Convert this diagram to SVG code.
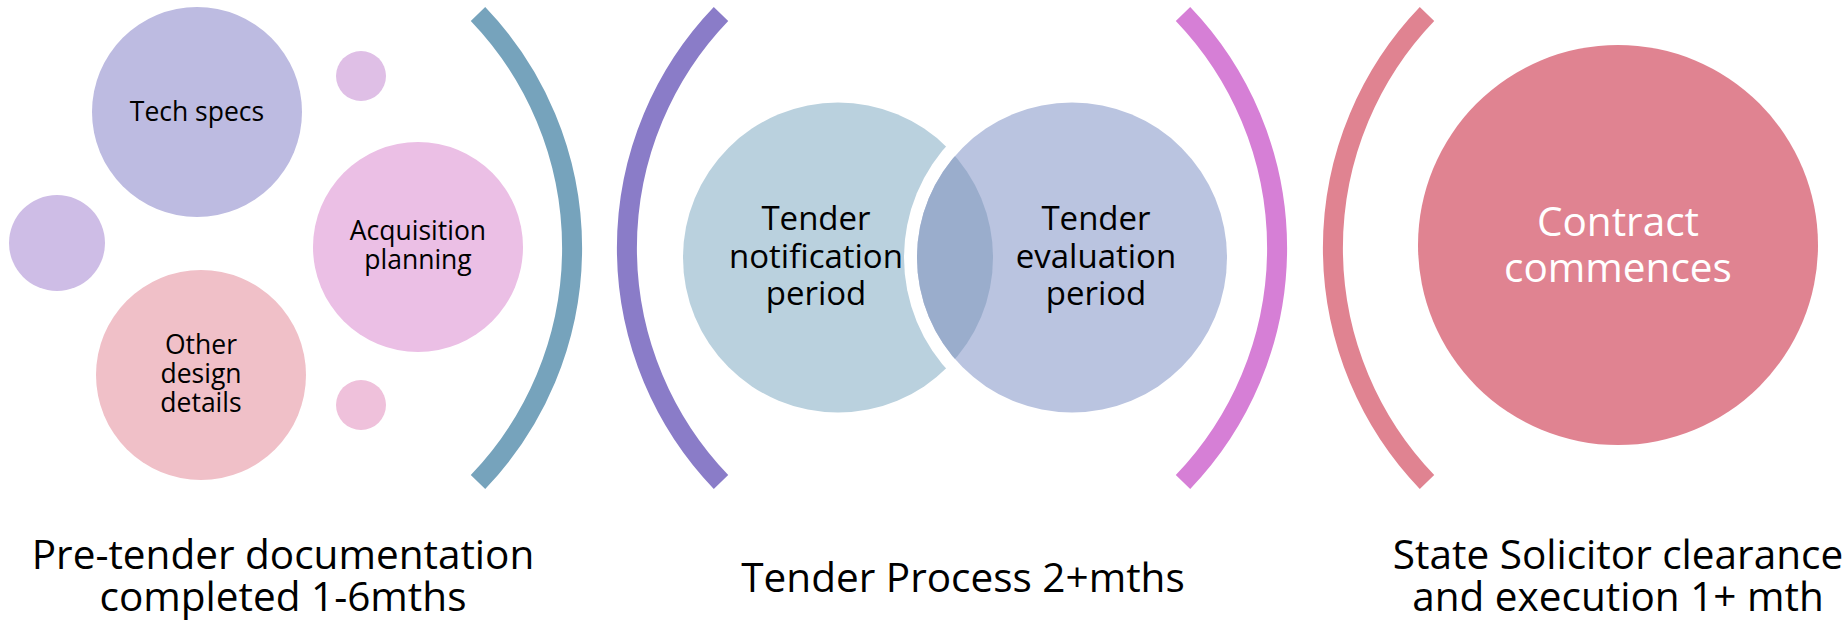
<svg xmlns="http://www.w3.org/2000/svg" width="1845" height="620" viewBox="0 0 1845 620">
<style>
text{font-family:"Open Sans","Liberation Sans",sans-serif;text-anchor:middle;fill:#000}
.s{font-size:26.5px}
.m{font-size:33px}
.l{font-size:40.5px}
.w{fill:#fff;font-size:40.5px}
.arc{fill:none;stroke-width:20;stroke-linecap:butt}
</style>
<defs>
<clipPath id="evalClip"><circle cx="1072" cy="257.5" r="155"/></clipPath>
</defs>
<rect width="1845" height="620" fill="#fff"/>
<g id="connectors">
<path class="arc" stroke="#76a3bc" d="M478 14 A338 338 0 0 1 478 482"/>
<path class="arc" stroke="#8a7cc8" d="M721 14 A338 338 0 0 0 721 482"/>
<path class="arc" stroke="#d67fd6" d="M1183 14 A338 338 0 0 1 1183 482"/>
<path class="arc" stroke="#e08391" d="M1427 14 A338 338 0 0 0 1427 482"/>
</g>
<g id="tech-specs">
<circle cx="197" cy="112" r="105" fill="#bdbbe1"/>
<text class="s" x="197" y="121">Tech specs</text>
</g>
<g id="dot-top"><circle cx="361" cy="76" r="25" fill="#dfbfe6"/></g>
<g id="dot-left"><circle cx="57" cy="243" r="48" fill="#cebde6"/></g>
<g id="acquisition">
<circle cx="418" cy="247" r="105" fill="#ebbfe5"/>
<text class="s" x="418" y="240">Acquisition<tspan x="418" dy="29">planning</tspan></text>
</g>
<g id="other-design">
<circle cx="201" cy="375" r="105" fill="#f0c0c8"/>
<text class="s" x="201" y="354">Other<tspan x="201" dy="29">design</tspan><tspan x="201" dy="29">details</tspan></text>
</g>
<g id="dot-bottom"><circle cx="361" cy="405" r="25" fill="#efc1db"/></g>
<g id="notification">
<circle cx="838" cy="257.5" r="155" fill="#bad1de"/>
<circle cx="1072" cy="257.5" r="168" fill="#fff"/>
</g>
<g id="evaluation">
<circle cx="1072" cy="257.5" r="155" fill="#bac4e0"/>
<circle cx="838" cy="257.5" r="155" fill="#9aadcc" clip-path="url(#evalClip)"/>
</g>
<g id="notification-label">
<text class="m" x="816" y="230">Tender<tspan x="816" dy="38">notification</tspan><tspan x="816" dy="37">period</tspan></text>
</g>
<g id="evaluation-label">
<text class="m" x="1096" y="230">Tender<tspan x="1096" dy="38">evaluation</tspan><tspan x="1096" dy="37">period</tspan></text>
</g>
<g id="contract">
<circle cx="1618" cy="245" r="200" fill="#e08391"/>
<text class="w" x="1618" y="236">Contract<tspan x="1618" dy="46">commences</tspan></text>
</g>
<g id="label-pretender">
<text class="l" x="283" y="569">Pre-tender documentation<tspan x="283" dy="42">completed 1-6mths</tspan></text>
</g>
<g id="label-tender">
<text class="l" x="963" y="592">Tender Process 2+mths</text>
</g>
<g id="label-state">
<text class="l" x="1618" y="569">State Solicitor clearance<tspan x="1618" dy="42">and execution 1+ mth</tspan></text>
</g>
</svg>
